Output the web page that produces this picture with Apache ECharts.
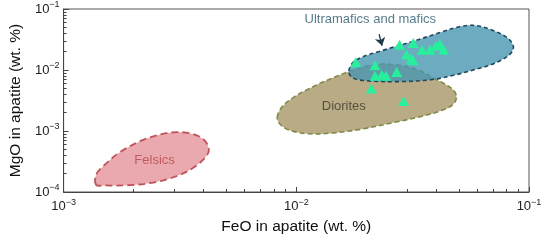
<!DOCTYPE html>
<html>
<head>
<meta charset="utf-8">
<script src="https://cdn.jsdelivr.net/npm/echarts@6/dist/echarts.min.js"></script>
<style>
  html, body { margin: 0; padding: 0; background: #fff; }
  #chart { width: 550px; height: 240px; }
</style>
</head>
<body>
<div id="chart"></div>
<script>
// field outlines, [FeO, MgO] in wt. %
const felsicsOutline = [
  [0.00138, 0.000131], [0.00138, 0.000193], [0.00150, 0.000278], [0.00175, 0.000453],
  [0.00221, 0.000720], [0.00277, 0.000920], [0.00336, 0.000940], [0.00395, 0.000755],
  [0.00421, 0.000512], [0.00408, 0.000377], [0.00359, 0.000247], [0.00305, 0.000181],
  [0.00243, 0.000143], [0.00188, 0.000129], [0.00150, 0.000128],
]
const dioritesOutline = [
  [0.00828, 0.00167], [0.00869, 0.00249], [0.00976, 0.00359], [0.01185, 0.00537],
  [0.01438, 0.00746], [0.01664, 0.00929], [0.01924, 0.01116], [0.02269, 0.01245],
  [0.02754, 0.01200], [0.03343, 0.01000], [0.03868, 0.00746], [0.04386, 0.00578],
  [0.04741, 0.00464], [0.04881, 0.00359], [0.04695, 0.00268], [0.04178, 0.00215],
  [0.03442, 0.00173], [0.02650, 0.00139], [0.01924, 0.00108], [0.01438, 0.00093],
  [0.01129, 0.00090], [0.00930, 0.00104], [0.00852, 0.00129],
]
const ultramaficsOutline = [
  [0.01680, 0.00964], [0.01798, 0.01442], [0.02336, 0.02077], [0.03217, 0.02992],
  [0.04178, 0.04159], [0.05073, 0.05176], [0.05866, 0.05370], [0.06786, 0.04642],
  [0.08000, 0.03467], [0.08560, 0.02498], [0.08400, 0.01931], [0.07846, 0.01551],
  [0.06786, 0.01200], [0.05754, 0.01000], [0.04832, 0.00834], [0.03793, 0.00693],
  [0.02754, 0.00645], [0.01981, 0.00668], [0.01746, 0.00746],
]

// measured apatite
const apatiteFeO = [
  0.0180, 0.0278, 0.0318, 0.0298, 0.0313, 0.0318, 0.0347, 0.0376, 0.0398,
  0.0414, 0.0430, 0.0218, 0.0233, 0.0218, 0.0243, 0.0270, 0.0210, 0.0289,
]
const apatiteMgO = [
  0.0134, 0.0259, 0.0278, 0.0179, 0.0155, 0.0144, 0.0215, 0.0215, 0.0249,
  0.0268, 0.0215, 0.0120, 0.00834, 0.00803, 0.00803, 0.00929, 0.00499, 0.00310,
]

const fieldNames = ['Felsics', 'Diorites', 'Ultramafics and mafics']
const fieldLabelPos = [[0.00246, 0.000334], [0.0160, 0.00249], [0.0208, 0.0668]]
const arrowLine = [[0.02269, 0.0386], [0.02336, 0.0250]]

const fieldStyles = [
  { fill: '#e9a9ae', stroke: '#c0535a', dash: [7, 4], width: 1.8, text: '#b8474e' },
  { fill: '#b8ab85', stroke: '#7f8a45', dash: [5, 3], width: 1.6, text: '#3f3a2b' },
  { fill: 'rgba(72,150,176,0.8)', stroke: '#22465a', dash: [4, 3], width: 1.6, text: '#2b5a6c' },
]

const fontFamily = 'Liberation Sans, Arial, sans-serif'

function outlineSeries(name, outline, st) {
  return {
    name: name,
    type: 'custom',
    data: outline,
    silent: true,
    renderItem: function (params, api) {
      if (params.dataIndex !== 0) return null
      const pts = outline.map(function (p) { return api.coord(p) })
      return {
        type: 'polygon',
        shape: { points: pts, smooth: 0.35 },
        style: { fill: st.fill, stroke: st.stroke, lineWidth: st.width, lineDash: st.dash },
      }
    },
  }
}

function tickLabel(val) {
  const e = Math.round(Math.log10(val))
  return '{b|10}{e|\u2212' + Math.abs(e) + '}'
}

const tickRich = {
  b: { fontSize: 13, color: '#222', fontFamily: fontFamily },
  e: { fontSize: 9, color: '#222', fontFamily: fontFamily, padding: [0, 0, 8, 0] },
}

const chart = echarts.init(document.getElementById('chart'))

chart.setOption({
  animation: false,
  grid: {
    left: 55, right: 21, top: 9, bottom: 42,
    show: true, borderColor: '#555', borderWidth: 1,
  },
  xAxis: {
    type: 'log',
    logBase: 10,
    min: 0.001,
    max: 0.1,
    name: 'FeO in apatite (wt. %)',
    nameLocation: 'middle',
    nameGap: 27,
    nameTextStyle: { fontSize: 15.5, color: '#111', fontFamily: fontFamily },
    axisLine: { lineStyle: { color: '#444' } },
    axisTick: { inside: true, length: 5, lineStyle: { color: '#444' } },
    minorTick: { show: true, splitNumber: 9, length: 3, lineStyle: { color: '#444' } },
    axisLabel: { formatter: tickLabel, rich: tickRich, margin: 6 },
    splitLine: { show: false },
  },
  yAxis: {
    type: 'log',
    logBase: 10,
    min: 0.0001,
    max: 0.1,
    name: 'MgO in apatite (wt. %)',
    nameLocation: 'middle',
    nameGap: 35,
    nameTextStyle: { fontSize: 15.5, color: '#111', fontFamily: fontFamily },
    axisLine: { lineStyle: { color: '#444' } },
    axisTick: { inside: true, length: 5, lineStyle: { color: '#444' } },
    minorTick: { show: true, splitNumber: 9, length: 3, lineStyle: { color: '#444' } },
    axisLabel: { formatter: tickLabel, rich: tickRich, margin: 4 },
    splitLine: { show: false },
  },
  series: [
    outlineSeries(fieldNames[0], felsicsOutline, fieldStyles[0]),
    outlineSeries(fieldNames[1], dioritesOutline, fieldStyles[1]),
    outlineSeries(fieldNames[2], ultramaficsOutline, fieldStyles[2]),
    {
      name: 'Apatite',
      type: 'scatter',
      symbol: 'triangle',
      symbolSize: [11, 10],
      itemStyle: { color: '#27ef9c', opacity: 1 },
      data: apatiteFeO.map(function (x, i) { return [x, apatiteMgO[i]] }),
      z: 5,
    },
    {
      name: 'labels',
      type: 'scatter',
      symbolSize: 0,
      silent: true,
      data: fieldLabelPos.map(function (p, i) {
        return {
          value: p,
          label: {
            show: true,
            position: 'inside',
            formatter: fieldNames[i],
            fontSize: 13,
            fontFamily: fontFamily,
            color: fieldStyles[i].text,
          },
        }
      }),
      z: 6,
    },
    {
      name: 'arrow',
      type: 'lines',
      coordinateSystem: 'cartesian2d',
      silent: true,
      symbol: ['none', 'arrow'],
      symbolSize: 8,
      lineStyle: { color: '#1f3b48', width: 1.3, opacity: 1 },
      data: [{ coords: arrowLine }],
      z: 6,
    },
  ],
})
</script>
</body>
</html>
